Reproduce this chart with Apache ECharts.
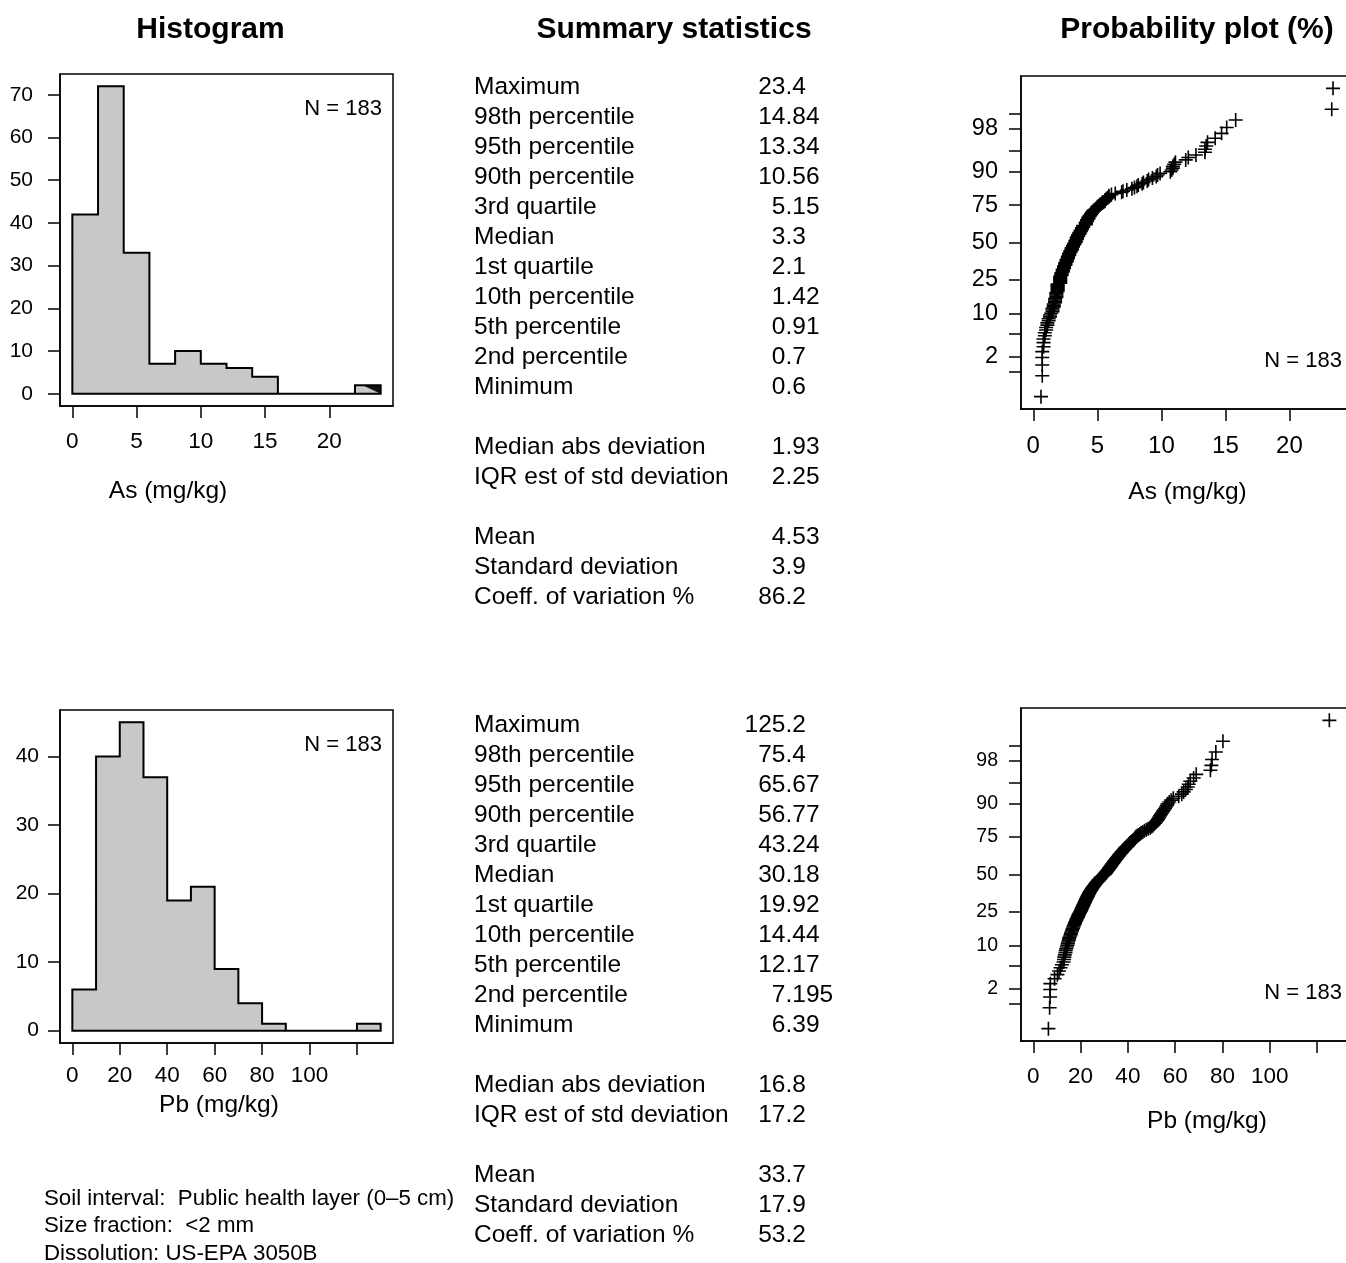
<!DOCTYPE html>
<html>
<head>
<meta charset="utf-8">
<script src="https://cdn.jsdelivr.net/npm/echarts@6/dist/echarts.min.js"></script>
<style>
html,body{margin:0;padding:0;background:#fff;}
#c{width:1346px;height:1263px;}
</style>
</head>
<body>
<div id="c"></div>
<script>
const FONT = '"Liberation Sans", Arial, Helvetica, sans-serif';

// ---------------- DATA ----------------
// Histogram bins (edges) and counts
const asBinEdges = [0,2,4,6,8,10,12,14,16,18,20,22,24];
const asCounts   = [42,72,33,7,10,7,6,4,0,0,0,2];
const pbBinEdges = [0,10,20,30,40,50,60,70,80,90,100,110,120,130];
const pbCounts   = [6,40,45,37,19,21,9,4,1,0,0,0,1];

// Sorted sample values (N = 183)
const asValues = [
0.6,0.7,0.7,0.7,0.7,0.8,0.8,0.8,0.9,0.9,
1.0,1.0,1.1,1.1,1.2,1.2,1.3,1.3,1.4,1.5,
1.5,1.5,1.6,1.6,1.6,1.7,1.7,1.7,1.7,1.8,
1.8,1.8,1.8,1.8,1.9,1.9,1.9,1.9,1.9,1.9,
1.9,1.9,2.1,2.1,2.1,2.1,2.1,2.1,2.1,2.1,
2.2,2.2,2.2,2.2,2.3,2.3,2.3,2.3,2.4,2.4,
2.4,2.4,2.5,2.5,2.5,2.5,2.6,2.6,2.6,2.6,
2.7,2.7,2.7,2.7,2.8,2.8,2.8,2.8,2.9,2.9,
2.9,3.0,3.0,3.0,3.0,3.1,3.1,3.1,3.2,3.2,
3.2,3.3,3.3,3.3,3.3,3.4,3.4,3.4,3.4,3.5,
3.5,3.5,3.6,3.6,3.6,3.7,3.7,3.7,3.8,3.8,
3.8,3.9,3.9,3.9,4.1,4.1,4.1,4.1,4.2,4.2,
4.2,4.3,4.3,4.3,4.4,4.4,4.5,4.5,4.6,4.6,
4.7,4.7,4.8,4.9,5.0,5.0,5.1,5.2,5.3,5.4,
5.5,5.6,5.6,5.7,5.8,5.9,5.9,6.1,6.4,6.9,
7.0,7.3,7.7,7.9,8.1,8.2,8.5,8.6,8.9,9.0,
9.3,9.6,9.7,9.9,10.7,10.8,10.9,10.9,11.0,11.1,
11.9,12.1,12.7,13.4,13.4,13.5,13.6,14.2,14.7,15.1,
15.8,23.3,23.4
];
const pbValues = [
6.39,6.9,7.1,7.15,7.22,9.0,10.2,10.9,11.5,12.1,
12.8,13.0,13.1,13.3,13.6,13.7,13.9,14.2,14.4,14.6,
14.7,15.0,15.1,15.3,15.6,15.8,16.0,16.1,16.4,16.5,
16.8,17.0,17.1,17.4,17.6,17.7,18.0,18.2,18.3,18.6,
18.8,19.0,19.1,19.3,19.6,19.8,20.04,20.2,20.4,20.5,
20.7,20.9,21.1,21.2,21.4,21.6,21.8,21.9,22.1,22.3,
22.4,22.6,22.8,23.0,23.1,23.3,23.5,23.7,23.8,24.0,
24.3,24.5,24.7,24.9,25.2,25.4,25.6,25.9,26.1,26.4,
26.6,26.9,27.2,27.4,27.7,28.0,28.3,28.6,28.9,29.3,
29.7,30.18,30.4,30.7,30.9,31.1,31.4,31.6,31.9,32.1,
32.3,32.6,32.8,33.0,33.3,33.5,33.8,34.0,34.2,34.5,
34.7,35.0,35.3,35.5,35.8,36.1,36.3,36.6,36.9,37.2,
37.5,37.8,38.1,38.4,38.7,39.0,39.4,39.8,40.2,40.5,
40.9,41.3,41.7,42.1,42.5,42.8,43.1,43.38,43.9,44.5,
45.1,45.6,46.3,47.0,47.8,48.6,49.4,50.1,50.6,51.0,
51.5,51.9,52.3,52.6,53.0,53.3,53.6,54.0,54.4,54.8,
55.2,55.7,56.1,56.5,56.84,57.5,58.3,59.2,61.5,62.8,
63.6,64.5,65.3,65.71,66.4,67.8,68.9,74.9,75.3,75.6,
77.2,80.2,125.2
];

// Tick values / labels
const asXTicks      = [0,5,10,15,20];
const asHistYTicks  = [0,10,20,30,40,50,60,70];
const pbXTicks      = [0,20,40,60,80,100,120];
const pbXLabels     = [0,20,40,60,80,100];
const pbHistYTicks  = [0,10,20,30,40];
const probTickPct   = [1,2,5,10,25,50,75,90,95,98,99];
const probLabelPct  = [2,10,25,50,75,90,98];

// Summary statistics table
const statLabels = ['Maximum','98th percentile','95th percentile','90th percentile','3rd quartile','Median','1st quartile','10th percentile','5th percentile','2nd percentile','Minimum','','Median abs deviation','IQR est of std deviation','','Mean','Standard deviation','Coeff. of variation %'];
const asStats = ['23.4','14.84','13.34','10.56','5.15','3.3','2.1','1.42','0.91','0.7','0.6','','1.93','2.25','','4.53','3.9','86.2'];
const pbStats = ['125.2','75.4','65.67','56.77','43.24','30.18','19.92','14.44','12.17','7.195','6.39','','16.8','17.2','','33.7','17.9','53.2'];
const footnote = ['Soil interval:  Public health layer (0\u20135 cm)','Size fraction:  <2 mm','Dissolution: US-EPA 3050B'];
const titles = ['Histogram','Summary statistics','Probability plot (%)'];
const nLabel = 'N = 183';

// ---------------- HELPERS ----------------
function qnorm(p){
  const a=[-3.969683028665376e+01,2.209460984245205e+02,-2.759285104469687e+02,1.383577518672690e+02,-3.066479806614716e+01,2.506628277459239e+00];
  const b=[-5.447609879822406e+01,1.615858368580409e+02,-1.556989798598866e+02,6.680131188771972e+01,-1.328068155288572e+01];
  const c=[-7.784894002430293e-03,-3.223964580411365e-01,-2.400758277161838e+00,-2.549732539343734e+00,4.374664141464968e+00,2.938163982698783e+00];
  const d=[7.784695709041462e-03,3.224671290700398e-01,2.445134137142996e+00,3.754408661907416e+00];
  const pl=0.02425, ph=1-pl; let q,r;
  if(p<pl){q=Math.sqrt(-2*Math.log(p));return (((((c[0]*q+c[1])*q+c[2])*q+c[3])*q+c[4])*q+c[5])/((((d[0]*q+d[1])*q+d[2])*q+d[3])*q+1);}
  if(p<=ph){q=p-0.5;r=q*q;return (((((a[0]*r+a[1])*r+a[2])*r+a[3])*r+a[4])*r+a[5])*q/(((((b[0]*r+b[1])*r+b[2])*r+b[3])*r+b[4])*r+1);}
  q=Math.sqrt(-2*Math.log(1-p));return -(((((c[0]*q+c[1])*q+c[2])*q+c[3])*q+c[4])*q+c[5])/((((d[0]*q+d[1])*q+d[2])*q+d[3])*q+1);
}
const probZ = p => qnorm(p/100);
function probData(vals){
  const n = vals.length;
  return vals.map((v,i)=>[v, qnorm((i+0.5)/n)]);
}
function rangeExt(lo,hi){ const e=(hi-lo)*0.04; return [lo-e, hi+e]; }

function histRender(edges, counts, shadeLast){
  return function(params, api){
    const pts=[api.coord([edges[0],0])];
    for(let i=0;i<counts.length;i++){
      pts.push(api.coord([edges[i],counts[i]]));
      pts.push(api.coord([edges[i+1],counts[i]]));
    }
    pts.push(api.coord([edges[edges.length-1],0]));
    const children=[{type:'polygon',shape:{points:pts},style:{fill:'#c8c8c8',stroke:null}}];
    if(shadeLast){
      const k=counts.length-1, s=edges[k], e=edges[k+1];
      children.push({type:'polygon',shape:{points:[api.coord([s+0.3*(e-s),counts[k]]),api.coord([e,counts[k]]),api.coord([e,0])]},style:{fill:'#111',stroke:null}});
    }
    children.push({type:'polygon',shape:{points:pts},style:{fill:null,stroke:'#000',lineWidth:2,lineJoin:'miter'}});
    return {type:'group',children};
  };
}

function xAxisCfg(gi, ext, ticks, labels, fs, margin){
  return {type:'value', gridIndex:gi, min:ext[0], max:ext[1], position:'bottom',
    axisLine:{show:true,onZero:false,lineStyle:{color:'#000',width:1.5}},
    axisTick:{show:true,inside:false,length:12,customValues:ticks,lineStyle:{color:'#000',width:1.5}},
    axisLabel:{show:true,customValues:labels,margin:margin,color:'#000',fontSize:fs,fontFamily:FONT},
    splitLine:{show:false}};
}
function yAxisCfg(gi, ext, ticks, labels, fs, margin, fmt){
  return {type:'value', gridIndex:gi, min:ext[0], max:ext[1], position:'left',
    axisLine:{show:true,onZero:false,lineStyle:{color:'#000',width:1.5}},
    axisTick:{show:true,inside:false,length:12,customValues:ticks,lineStyle:{color:'#000',width:1.5}},
    axisLabel:{show:true,customValues:labels,margin:margin,color:'#000',fontSize:fs,fontFamily:FONT,formatter:fmt},
    splitLine:{show:false}};
}
const probFmt = v => { for(const p of probLabelPct){ if(Math.abs(probZ(p)-v)<1e-9) return String(p);} return ''; };

// ---------------- TEXT (graphic) ----------------
const ctx = document.createElement('canvas').getContext('2d');
function tw(s,fs){ ctx.font = fs+'px '+FONT; return ctx.measureText(s).width; }
const graphics=[];
const DY = 1.5;
function txt(x,y,text,fs,align,weight){
  graphics.push({type:'text',x:x,y:y+DY,silent:true,style:{text:text,fontSize:fs,fontFamily:FONT,fontWeight:weight||'normal',fill:'#000',textAlign:align||'left',textVerticalAlign:'middle'}});
}
txt(210.5,28.5,titles[0],30,'center','bold');
txt(674,28.5,titles[1],30,'center','bold');
txt(1197,28.5,titles[2],30,'center','bold');

function statBlock(values, y0){
  const fs=24.5, dotX=785.5;
  statLabels.forEach((lab,k)=>{
    if(!lab) return;
    const y=y0+30*k;
    txt(474,y,lab,fs,'left');
    const v=values[k];
    const ip=v.split('.')[0];
    txt(dotX-tw(ip,fs),y,v,fs,'left');
  });
}
statBlock(asStats,86);
statBlock(pbStats,724);

txt(168,490,'As (mg/kg)',24.5,'center');
txt(1187.5,490.5,'As (mg/kg)',24.5,'center');
txt(219,1104,'Pb (mg/kg)',24.5,'center');
txt(1207,1120,'Pb (mg/kg)',24.5,'center');

txt(382,107,nLabel,22,'right');
txt(382,743,nLabel,22,'right');
txt(1342,359,nLabel,22,'right');
txt(1342,991,nLabel,22,'right');

footnote.forEach((f,i)=>txt(44,1197+27.5*i,f,22.3,'left'));

// ---------------- CHART ----------------
const gridStyle = {show:true,borderColor:'#000',borderWidth:1.5,backgroundColor:'transparent',containLabel:false,outerBoundsMode:'none'};
const grids = [
  Object.assign({left:60,  top:74,  width:333, height:332}, gridStyle),
  Object.assign({left:1021,top:76,  width:332, height:333}, gridStyle),
  Object.assign({left:60,  top:710, width:333, height:333}, gridStyle),
  Object.assign({left:1021,top:708, width:332, height:333}, gridStyle)
];

const asXExt = rangeExt(asBinEdges[0], asBinEdges[asBinEdges.length-1]);
const pbXExt = rangeExt(pbBinEdges[0], pbBinEdges[pbBinEdges.length-1]);
const asYExt = rangeExt(0, Math.max(...asCounts));
const pbYExt = rangeExt(0, Math.max(...pbCounts));
const zMax = qnorm((asValues.length-0.5)/asValues.length);
const zExt = rangeExt(-zMax, zMax);
const probTicksZ = probTickPct.map(probZ);
const probLabelsZ = probLabelPct.map(probZ);

const plusSymbol = 'path://M10,0L10,20M0,10L20,10';

const option = {
  animation:false,
  backgroundColor:'#fff',
  grid: grids,
  xAxis: [
    xAxisCfg(0, asXExt, asXTicks, asXTicks, 22.5, 24),
    xAxisCfg(1, asXExt, asXTicks, asXTicks, 24, 25),
    xAxisCfg(2, pbXExt, pbXTicks, pbXLabels, 22.5, 21),
    xAxisCfg(3, pbXExt, pbXTicks, pbXLabels, 22.5, 24)
  ],
  yAxis: [
    yAxisCfg(0, asYExt, asHistYTicks, asHistYTicks, 21, 27),
    yAxisCfg(1, zExt, probTicksZ, probLabelsZ, 23.5, 23, probFmt),
    yAxisCfg(2, pbYExt, pbHistYTicks, pbHistYTicks, 21, 21),
    yAxisCfg(3, zExt, probTicksZ, probLabelsZ, 19.5, 23, probFmt)
  ],
  series: [
    {type:'custom', xAxisIndex:0, yAxisIndex:0, silent:true, data:[[asBinEdges[0],0]], renderItem:histRender(asBinEdges, asCounts, true)},
    {type:'scatter', xAxisIndex:1, yAxisIndex:1, silent:true, data:probData(asValues), symbol:plusSymbol, symbolSize:14,
      itemStyle:{color:'none',borderColor:'#000',borderWidth:1.6,opacity:1}},
    {type:'custom', xAxisIndex:2, yAxisIndex:2, silent:true, data:[[pbBinEdges[0],0]], renderItem:histRender(pbBinEdges, pbCounts, false)},
    {type:'scatter', xAxisIndex:3, yAxisIndex:3, silent:true, data:probData(pbValues), symbol:plusSymbol, symbolSize:14,
      itemStyle:{color:'none',borderColor:'#000',borderWidth:1.6,opacity:1}}
  ],
  graphic: graphics
};

const chart = echarts.init(document.getElementById('c'), null, {renderer:'canvas'});
chart.setOption(option);
</script>
</body>
</html>
